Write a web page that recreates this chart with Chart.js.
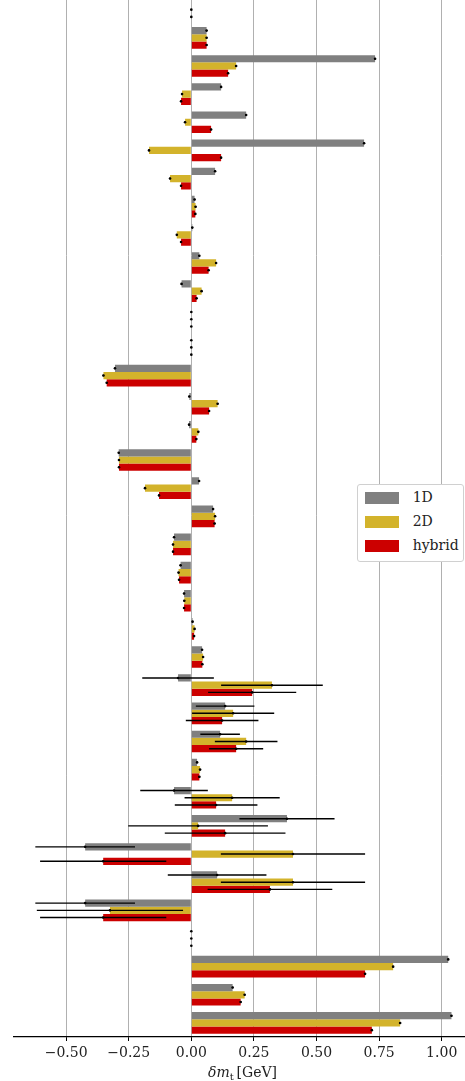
<!DOCTYPE html>
<html>
<head>
<meta charset="utf-8">
<script src="https://cdn.jsdelivr.net/npm/chart.js@4/dist/chart.umd.min.js"></script>
<style>
  html, body { margin:0; padding:0; background:#fff; overflow:hidden; width:465px; height:1081px; }
  #wrap { position:relative; width:465px; height:1081px; overflow:hidden; }
  #c { position:absolute; left:0; top:-10px; }
  #legend { position:absolute; left:356.7px; top:484px; width:105px; height:76px; border:1px solid #d0d0d0; border-radius:3px; background:#fff; font-family:'DejaVu Serif', serif; font-size:14px; color:#222; }
  .row { position:absolute; left:7px; height:12px; }
  .sw { position:absolute; left:0; top:0; width:34px; height:11.7px; }
  .lt { position:absolute; left:48px; top:-3px; line-height:17px; white-space:nowrap; }
  #xtitle { position:absolute; left:242.5px; top:1063.5px; transform:translateX(-50%); font-family:'DejaVu Serif', serif; font-size:14px; color:#222; line-height:17px; white-space:nowrap; }
  #xtitle sub { font-size:10px; vertical-align:-3px; line-height:0; }
</style>
</head>
<body>
<div id="wrap">
  <canvas id="c" width="475" height="1101"></canvas>
  <div id="legend"></div>
  <div id="xtitle"><i>δm</i><sub>t</sub>&#8201;[GeV]</div>
</div>
<script>
// ---- data ----
const categories = ['r0','r1','r2','r3','r4','r5','r6','r7','r8','r9','r10','r11','r12','r13','r14','r15','r16','r17','r18','r19','r20','r21','r22','r23','r24','r25','r26','r27','r28','r29','r30','r31','r32','r33','r34','r35','r36'];
const seriesNames = ['1D', '2D', 'hybrid'];
const vals1D = [null, 0.061, 0.734, 0.119, 0.219, 0.690, 0.095, 0.013, 0.004, 0.032, -0.039, 0, 0, -0.305, -0.008, -0.009, -0.290, 0.031, 0.087, -0.069, -0.043, -0.029, 0.005, 0.043, -0.053, 0.135, 0.115, 0.023, -0.069, 0.382, -0.424, 0.103, -0.424, 0, 1.026, 0.165, 1.039];
const vals2D = [0, 0.061, 0.179, -0.037, -0.025, -0.169, -0.085, 0.017, -0.058, 0.099, 0.041, 0, 0, -0.351, 0.105, 0.028, -0.289, -0.185, 0.095, -0.073, -0.051, -0.028, 0.013, 0.047, 0.322, 0.167, 0.219, 0.035, 0.163, 0.027, 0.406, 0.406, -0.325, 0, 0.806, 0.213, 0.834];
const valsHybrid = [0, 0.061, 0.147, -0.041, 0.079, 0.119, -0.041, 0.016, -0.041, 0.069, 0.021, 0, 0, -0.338, 0.071, 0.020, -0.289, -0.129, 0.093, -0.073, -0.049, -0.029, 0.011, 0.044, 0.243, 0.123, 0.179, 0.032, 0.099, 0.135, -0.352, 0.314, -0.352, 0, 0.694, 0.197, 0.721];
const err1D = [0, 0.003, 0.003, 0.003, 0.003, 0.003, 0.003, 0.003, 0.003, 0.003, 0.003, 0, 0, 0.003, 0.003, 0.003, 0.003, 0.003, 0.003, 0.003, 0.003, 0.003, 0.003, 0.003, 0.143, 0.117, 0.079, 0.004, 0.135, 0.190, 0.199, 0.197, 0.199, 0, 0.003, 0.003, 0.003];
const err2D = [0, 0.003, 0.003, 0.003, 0.003, 0.003, 0.003, 0.003, 0.003, 0.003, 0.003, 0, 0, 0.003, 0.003, 0.003, 0.003, 0.003, 0.003, 0.003, 0.003, 0.003, 0.003, 0.003, 0.203, 0.164, 0.125, 0.004, 0.190, 0.279, 0.288, 0.288, 0.292, 0, 0.003, 0.003, 0.003];
const errHybrid = [0, 0.003, 0.003, 0.003, 0.003, 0.003, 0.003, 0.003, 0.003, 0.003, 0.003, 0, 0, 0.003, 0.003, 0.003, 0.003, 0.003, 0.003, 0.003, 0.003, 0.003, 0.003, 0.003, 0.176, 0.145, 0.108, 0.004, 0.165, 0.241, 0.252, 0.249, 0.252, 0, 0.003, 0.003, 0.003];
const xTicks = [-0.5, -0.25, 0, 0.25, 0.5, 0.75, 1.0];
const colors = ['#808080', '#d3b32b', '#cc0000'];

// ---- legend (HTML) ----
const legendEl = document.getElementById('legend');
seriesNames.forEach((n, i) => {
  const r = document.createElement('div');
  r.className = 'row';
  r.style.top = (7 + i * 24) + 'px';
  r.innerHTML = '<div class="sw" style="background:' + colors[i] + '"></div><div class="lt">' + n + '</div>';
  legendEl.appendChild(r);
});

// ---- error bar plugin ----
const errorBars = {
  id: 'errorBars',
  afterDatasetsDraw(chart) {
    const ctx = chart.ctx, xs = chart.scales.x, area = chart.chartArea;
    ctx.save();
    ctx.beginPath();
    ctx.rect(area.left, area.top, area.right - area.left, area.bottom - area.top);
    ctx.clip();
    chart.data.datasets.forEach((ds, di) => {
      const meta = chart.getDatasetMeta(di);
      meta.data.forEach((bar, i) => {
        const v = ds.data[i];
        if (v === null || v === undefined) return;
        const e = ds.errors[i] || 0;
        const y = bar.y;
        const xc = xs.getPixelForValue(v);
        if (e > 0) {
          ctx.beginPath();
          ctx.strokeStyle = '#000';
          ctx.lineWidth = 1.4;
          ctx.moveTo(xs.getPixelForValue(v - e), y);
          ctx.lineTo(xs.getPixelForValue(v + e), y);
          ctx.stroke();
        }
        ctx.beginPath();
        ctx.fillStyle = '#000';
        ctx.arc(xc, y, 1.3, 0, Math.PI * 2);
        ctx.fill();
      });
    });
    ctx.restore();
  }
};

const fmt = v => {
  const s = Math.abs(v).toFixed(2);
  return v < -1e-9 ? '\u2212' + s : s;
};

new Chart(document.getElementById('c').getContext('2d'), {
  type: 'bar',
  data: {
    labels: categories,
    datasets: [
      { label: seriesNames[0], data: vals1D, errors: err1D, backgroundColor: colors[0] },
      { label: seriesNames[1], data: vals2D, errors: err2D, backgroundColor: colors[1] },
      { label: seriesNames[2], data: valsHybrid, errors: errHybrid, backgroundColor: colors[2] }
    ]
  },
  plugins: [errorBars],
  options: {
    indexAxis: 'y',
    responsive: false,
    animation: false,
    devicePixelRatio: 1,
    layout: { padding: { left: 13.3, right: 3, top: 5.6, bottom: 0 } },
    datasets: { bar: { categoryPercentage: 0.77, barPercentage: 1, borderWidth: 0 } },
    plugins: { legend: { display: false }, tooltip: { enabled: false } },
    scales: {
      x: {
        type: 'linear',
        min: -0.711,
        max: 1.121,
        afterBuildTicks: s => { s.ticks = xTicks.map(v => ({ value: v })); },
        afterFit: s => { s.height = 54; },
        ticks: {
          callback: v => fmt(v),
          font: { family: 'DejaVu Serif', size: 14 },
          color: '#222',
          padding: 4,
          maxRotation: 0,
          autoSkip: false
        },
        grid: { color: '#b0b0b0', lineWidth: 1, tickColor: '#000', tickLength: 4 },
        border: { color: '#000', width: 1.2 }
      },
      y: { type: 'category', display: false, offset: true }
    }
  }
});
</script>
</body>
</html>
